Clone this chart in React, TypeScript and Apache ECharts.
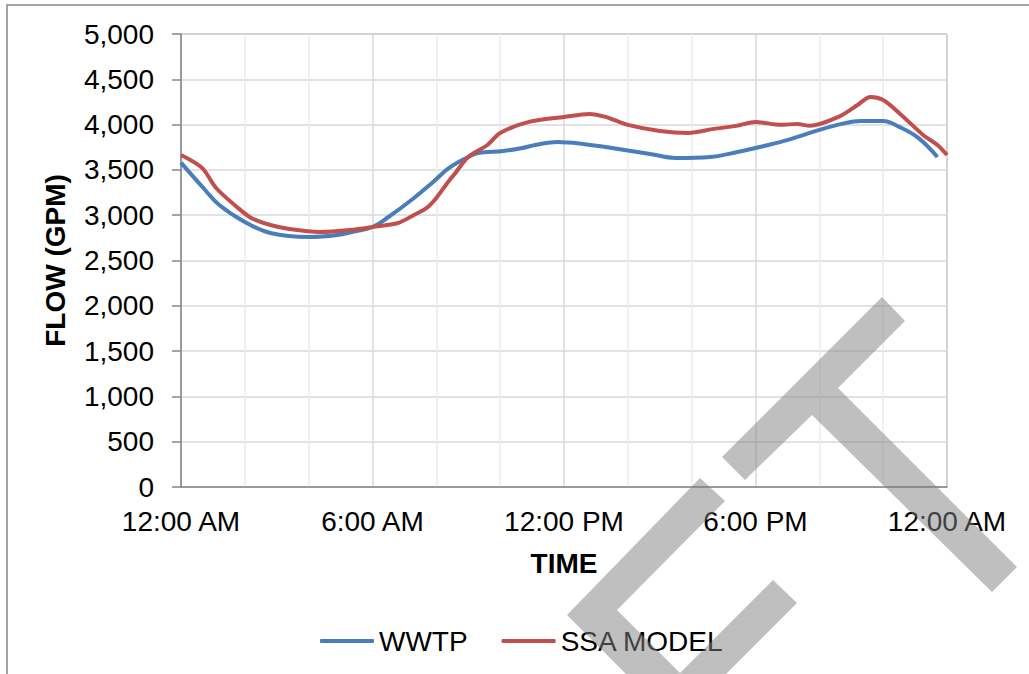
import React, { useEffect, useRef } from "react";
import * as echarts from "echarts";

const wwtpHours = [0, 0.7, 1.2, 2, 2.8, 4, 4.9, 5.5, 6, 6.5, 7.3, 7.9, 8.4, 9.0, 9.3, 10.1, 10.7, 11.1, 11.8, 12.6, 13.7, 14.7, 15.5, 16.6, 17.3, 18, 18.9, 19.9, 20.7, 21.3, 22.0, 22.5, 23.1, 23.7];
const wwtpFlow = [3580, 3300, 3113, 2925, 2804, 2760, 2782, 2826, 2870, 2980, 3190, 3367, 3522, 3643, 3687, 3709, 3742, 3775, 3809, 3787, 3731, 3676, 3632, 3643, 3687, 3742, 3820, 3930, 4008, 4040, 4040, 3975, 3853, 3643];

const ssaHours = [0, 0.66, 1.1, 1.75, 2.2, 2.8, 3.4, 4.35, 5.3, 6, 6.8, 7.3, 7.7, 8.0, 8.3, 8.6, 9.0, 9.6, 10.0, 10.9, 12.0, 12.8, 13.3, 14.0, 15.0, 15.9, 16.7, 17.4, 18.0, 18.8, 19.3, 19.7, 20.6, 21.2, 21.6, 22.0, 22.5, 23.25, 23.7, 24.0];
const ssaFlow = [3665, 3522, 3300, 3091, 2970, 2892, 2848, 2815, 2837, 2870, 2914, 3003, 3080, 3190, 3334, 3467, 3643, 3775, 3908, 4030, 4085, 4118, 4085, 3997, 3930, 3908, 3953, 3986, 4030, 3997, 4008, 3986, 4085, 4217, 4306, 4272, 4129, 3886, 3775, 3665];

const timeLabels: Record<number, string> = { 0: "12:00 AM", 6: "6:00 AM", 12: "12:00 PM", 18: "6:00 PM", 24: "12:00 AM" };
const seriesNames = ["WWTP", "SSA MODEL"];

const FONT = "Liberation Sans, Arial, sans-serif";

export default function App() {
  const ref = useRef<HTMLDivElement>(null);
  useEffect(() => {
    if (!ref.current) return;
    const chart = echarts.init(ref.current, undefined, { renderer: "svg" });
    const wm = "rgba(128,128,128,0.5)";
    chart.setOption({
      animation: false,
      backgroundColor: "#ffffff",
      textStyle: { fontFamily: FONT },
      grid: {
        left: 181,
        top: 34,
        right: 82,
        bottom: 187,
        show: true,
        borderColor: "#898989",
        borderWidth: 1,
      },
      legend: {
        left: 315,
        top: 622,
        icon: "roundRect",
        itemWidth: 54,
        itemHeight: 4,
        itemGap: 34,
        data: seriesNames,
        textStyle: { fontSize: 28, color: "#000", fontFamily: FONT, padding: [0, 0, 0, 0] },
      },
      xAxis: {
        type: "value",
        min: 0,
        max: 24,
        interval: 2,
        name: "TIME",
        nameLocation: "middle",
        nameGap: 62,
        nameTextStyle: { fontSize: 28, fontWeight: "bold", color: "#000", fontFamily: FONT },
        axisLine: { show: true, lineStyle: { color: "#868686", width: 1.5 } },
        axisTick: { show: false },
        axisLabel: {
          fontSize: 28,
          color: "#000",
          margin: 20,
          fontFamily: FONT,
          formatter: (v: number) => timeLabels[v] ?? "",
        },
        splitLine: { show: true, lineStyle: { color: ["#d9d9d9", "#ececec", "#ececec"], width: 1.5 } },
      },
      yAxis: {
        type: "value",
        min: 0,
        max: 5000,
        interval: 500,
        name: "FLOW (GPM)",
        nameLocation: "middle",
        nameGap: 112,
        nameTextStyle: { fontSize: 28, fontWeight: "bold", color: "#000", fontFamily: FONT },
        axisLine: { show: true, lineStyle: { color: "#868686", width: 1.5 } },
        axisTick: { show: true, length: 9, lineStyle: { color: "#868686", width: 1.5 } },
        axisLabel: {
          fontSize: 28,
          color: "#000",
          margin: 27,
          fontFamily: FONT,
          formatter: (v: number) => v.toLocaleString("en-US"),
        },
        splitLine: { show: true, lineStyle: { color: "#d9d9d9", width: 1.5 } },
      },
      series: [
        {
          name: seriesNames[0],
          type: "line",
          data: wwtpHours.map((h, i) => [h, wwtpFlow[i]]),
          symbol: "none",
          smooth: 0.4,
          lineStyle: { color: "#4a7ebb", width: 4 },
          itemStyle: { color: "#4a7ebb" },
        },
        {
          name: seriesNames[1],
          type: "line",
          data: ssaHours.map((h, i) => [h, ssaFlow[i]]),
          symbol: "none",
          smooth: 0.3,
          lineStyle: { color: "#c0504d", width: 4 },
          itemStyle: { color: "#c0504d" },
        },
      ],
      graphic: [
        {
          type: "rect",
          z: 0,
          silent: true,
          shape: { x: 7, y: 5, width: 1200, height: 1000 },
          style: { fill: "none", stroke: "#868686", lineWidth: 1.5 },
        },
        {
          type: "polygon",
          z: 100,
          silent: true,
          shape: {
            points: [[722, 457], [882, 297], [905, 321], [838, 388], [1017, 567], [992, 592], [812, 415], [745, 480]],
          },
          style: { fill: wm },
        },
        {
          type: "polygon",
          z: 100,
          silent: true,
          shape: {
            points: [[700, 478], [725, 501], [617, 610], [680, 673], [773, 580], [797, 603], [676, 724], [567, 615]],
          },
          style: { fill: wm },
        },
      ],
    });
    return () => chart.dispose();
  }, []);
  return (
    <div
      ref={ref}
      style={{ position: "fixed", left: 0, top: 0, width: 1029, height: 674 }}
    />
  );
}
